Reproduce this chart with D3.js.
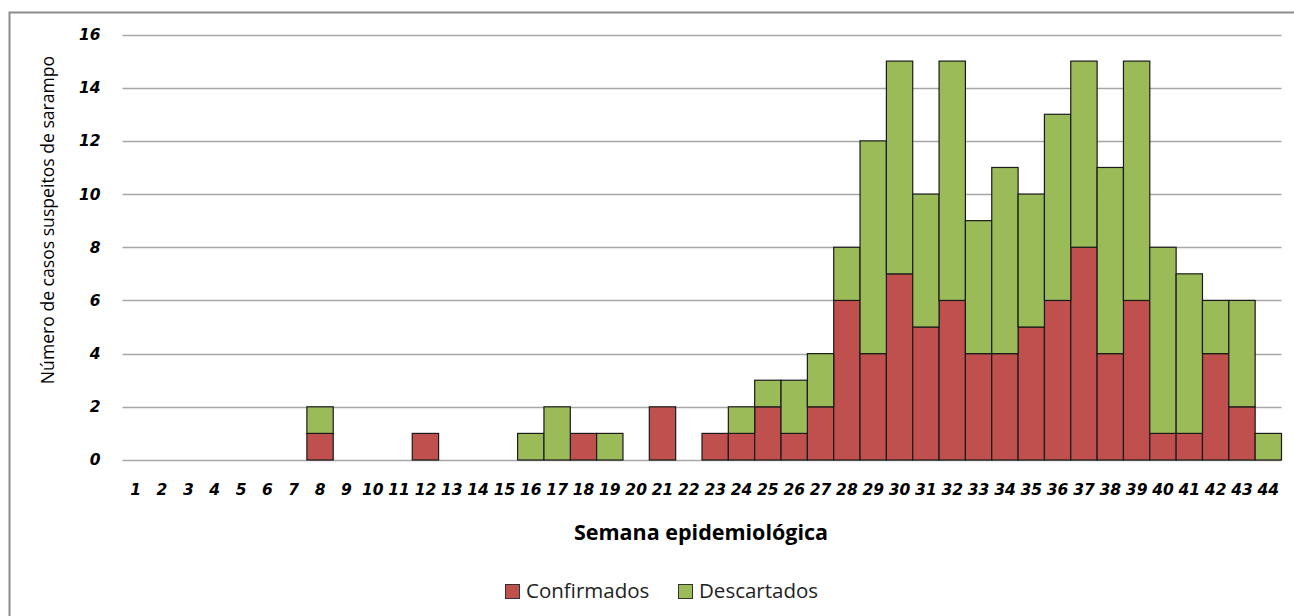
<!DOCTYPE html>
<html>
<head>
<meta charset="utf-8">
<script src="https://cdn.jsdelivr.net/npm/d3@7"></script>
<style>
  html, body { margin: 0; padding: 0; background: #fff; }
  svg { display: block; }
</style>
</head>
<body>
<svg id="chart" width="1294" height="616"></svg>
<script>
// Epidemiological weeks 1–44
const weeks = d3.range(1, 45).map(String);

// Suspected measles cases per week
const confirmados = [0,0,0,0,0,0,0,1,0,0,0,1,0,0,0,0,0,1,0,0,2,0,1,1,2,1,2,6,4,7,5,6,4,4,5,6,8,4,6,1,1,4,2,0];
const descartados = [0,0,0,0,0,0,0,1,0,0,0,0,0,0,0,1,2,0,1,0,0,0,0,1,1,2,2,2,8,8,5,9,5,7,5,7,7,7,9,7,6,2,4,1];

const seriesNames = ["Confirmados", "Descartados"];
const seriesColors = ["#C0504D", "#9BBB59"];
const yTicks = [0, 2, 4, 6, 8, 10, 12, 14, 16];

const svg = d3.select("#chart");
const W = 1294, H = 616;

// chart frame
svg.append("rect")
  .attr("x", 9.5).attr("y", 12.5)
  .attr("width", W + 10).attr("height", H + 10)
  .attr("fill", "none").attr("stroke", "#8c8c8c").attr("stroke-width", 2);

const plot = { left: 122.5, right: 1281.5, top: 34.5, bottom: 460 };

const x = d3.scaleBand().domain(weeks).range([plot.left, plot.right]).padding(0);
const y = d3.scaleLinear().domain([0, 16]).range([plot.bottom, plot.top]);

// gridlines
svg.append("g")
  .selectAll("line").data(yTicks).join("line")
  .attr("x1", plot.left).attr("x2", plot.right)
  .attr("y1", d => Math.round(y(d)) + 0.5).attr("y2", d => Math.round(y(d)) + 0.5)
  .attr("stroke", "#a6a6a6").attr("stroke-width", 1.5);

// y tick labels
const yAxis = d3.axisLeft(y).tickValues(yTicks).tickSize(0).tickPadding(0);
const gy = svg.append("g").attr("transform", `translate(${plot.left - 22},0)`).call(yAxis);
gy.select(".domain").remove();
gy.selectAll("text")
  .attr("font-family", "DejaVu Sans, Verdana, sans-serif")
  .attr("font-size", 15.5).attr("font-weight", "bold").attr("font-style", "italic")
  .attr("fill", "#000");

// stacked data
const table = weeks.map((w, i) => ({ week: w, Confirmados: confirmados[i], Descartados: descartados[i] }));
const stacked = d3.stack().keys(seriesNames)(table);

svg.append("g")
  .selectAll("g").data(stacked).join("g")
  .attr("fill", (d, i) => seriesColors[i])
  .selectAll("rect").data(d => d.filter(p => p[1] - p[0] > 0)).join("rect")
  .attr("x", d => x(d.data.week))
  .attr("width", x.bandwidth())
  .attr("y", d => y(d[1]))
  .attr("height", d => y(d[0]) - y(d[1]))
  .attr("stroke", "#1a1a1a").attr("stroke-width", 1.2);

// x tick labels
const xAxis = d3.axisBottom(x).tickSize(0).tickPadding(0);
const gx = svg.append("g").attr("transform", `translate(0,${plot.bottom + 24})`).call(xAxis);
gx.select(".domain").remove();
gx.selectAll("text")
  .attr("font-family", "DejaVu Sans, Verdana, sans-serif")
  .attr("font-size", 15.5).attr("font-weight", "bold").attr("font-style", "italic")
  .attr("fill", "#000");

// axis titles
svg.append("text")
  .attr("x", 701).attr("y", 540)
  .attr("text-anchor", "middle")
  .attr("font-family", "Open Sans, sans-serif")
  .attr("font-size", 21.5).attr("font-weight", "bold")
  .attr("fill", "#000")
  .text("Semana epidemiológica");

svg.append("text")
  .attr("transform", "translate(54,220) rotate(-90)")
  .attr("text-anchor", "middle")
  .attr("font-family", "Open Sans, sans-serif")
  .attr("font-size", 17.6)
  .attr("fill", "#000")
  .text("Número de casos suspeitos de sarampo");

// legend
const legendX = [505, 678];
const legend = svg.append("g")
  .selectAll("g").data(seriesNames).join("g")
  .attr("transform", (d, i) => `translate(${legendX[i]},584)`);
legend.append("rect")
  .attr("x", 0.5).attr("y", 0.5).attr("width", 14).attr("height", 14)
  .attr("fill", (d, i) => seriesColors[i])
  .attr("stroke", "#333").attr("stroke-width", 1);
legend.append("text")
  .attr("x", 21).attr("y", 14)
  .attr("font-family", "Open Sans, sans-serif")
  .attr("font-size", 20.5)
  .attr("fill", "#222")
  .text(d => d);
</script>
</body>
</html>
